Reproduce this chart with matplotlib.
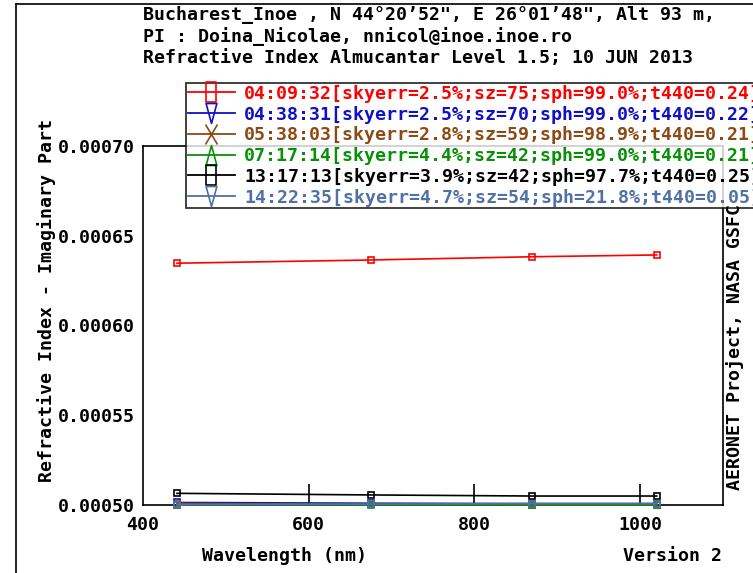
import matplotlib
matplotlib.use("Agg")
import matplotlib.pyplot as plt
from matplotlib.path import Path
from matplotlib.lines import Line2D

# ---- data -------------------------------------------------------------
wavelengths = [441, 675, 870, 1020]

series_labels = [
    "04:09:32[skyerr=2.5%;sz=75;sph=99.0%;t440=0.24]",
    "04:38:31[skyerr=2.5%;sz=70;sph=99.0%;t440=0.22]",
    "05:38:03[skyerr=2.8%;sz=59;sph=98.9%;t440=0.21]",
    "07:17:14[skyerr=4.4%;sz=42;sph=99.0%;t440=0.21]",
    "13:17:13[skyerr=3.9%;sz=42;sph=97.7%;t440=0.25]",
    "14:22:35[skyerr=4.7%;sz=54;sph=21.8%;t440=0.05]",
]

k_0409 = [0.0006347, 0.0006365, 0.0006383, 0.0006393]
k_0438 = [0.0005014, 0.0005010, 0.0005008, 0.0005008]
k_0538 = [0.0005008, 0.0005004, 0.0005002, 0.0005001]
k_0717 = [0.0005000, 0.0005000, 0.0005000, 0.0005000]
k_1317 = [0.0005065, 0.0005056, 0.0005050, 0.0005050]
k_1422 = [0.0005002, 0.0005005, 0.0005008, 0.0005008]
series_values = [k_0409, k_0438, k_0538, k_0717, k_1317, k_1422]

colors = ["#ff0000", "#1010c8", "#8c4a14", "#089008", "#000000", "#5070a8"]

x_ticks = [400, 600, 800, 1000]
y_ticks = [0.00050, 0.00055, 0.00060, 0.00065, 0.00070]

title_lines = [
    "Bucharest_Inoe , N 44\u00b020\u201952\", E 26\u00b001\u201948\", Alt 93 m,",
    "PI : Doina_Nicolae, nnicol@inoe.inoe.ro",
    "Refractive Index Almucantar Level 1.5; 10 JUN 2013",
]

# ---- tall legend symbols ---------------------------------------------
w = 0.27
tall_rect = Path([(-w, -0.5), (w, -0.5), (w, 0.5), (-w, 0.5), (-w, -0.5)],
                 [Path.MOVETO, Path.LINETO, Path.LINETO, Path.LINETO, Path.CLOSEPOLY])
tall_down = Path([(-w, 0.5), (w, 0.5), (0, -0.5), (-w, 0.5)],
                 [Path.MOVETO, Path.LINETO, Path.LINETO, Path.CLOSEPOLY])
tall_up = Path([(0, 0.5), (w, -0.5), (-w, -0.5), (0, 0.5)],
               [Path.MOVETO, Path.LINETO, Path.LINETO, Path.CLOSEPOLY])
tall_x = Path([(-0.3, 0.5), (0.3, -0.5), (-0.3, -0.5), (0.3, 0.5)],
              [Path.MOVETO, Path.LINETO, Path.MOVETO, Path.LINETO])
legend_markers = [tall_rect, tall_down, tall_x, tall_up, tall_rect, tall_down]

FONT = "DejaVu Sans Mono"
FS = 13.15

fig = plt.figure(figsize=(7.53, 5.73), dpi=100)
W, H = 753, 573
ax = fig.add_axes([143 / W, 1 - 505 / H, (723 - 143) / W, (505 - 146) / H])

for vals, col in zip(series_values, colors):
    ax.plot(wavelengths, vals, color=col, lw=1.2, marker="s", ms=4.5,
            mfc="none", mec=col, mew=1.2, clip_on=False, zorder=3)

ax.set_xlim(400, 1100)
ax.set_ylim(0.00050, 0.00070)
ax.set_xticks(x_ticks)
ax.set_yticks(y_ticks)
ax.set_xticklabels([str(v) for v in x_ticks])
ax.set_yticklabels([f"{v:.5f}" for v in y_ticks])
ax.tick_params(axis="x", direction="in", length=15, width=1.2, pad=8)
ax.tick_params(axis="y", length=0, pad=6)
ax.xaxis.get_major_ticks()[0].tick1line.set_visible(False)
for lab in ax.get_xticklabels() + ax.get_yticklabels():
    lab.set_fontfamily(FONT)
    lab.set_fontweight("bold")
    lab.set_fontsize(FS)
for sp in ax.spines.values():
    sp.set_linewidth(1.2)

ax.set_ylabel("Refractive Index - Imaginary Part", fontfamily=FONT,
              fontweight="bold", fontsize=FS)
ax.yaxis.set_label_coords((56 - 143) / 580, (505 - 300) / 359)

# legend with tall symbols
handles = [Line2D([], [], color=c, lw=1.3, marker=m, ms=14.4, mfc="none",
                  mec=c, mew=1.2)
           for c, m in zip(colors, legend_markers)]
leg = ax.legend(handles, series_labels, loc="upper left",
                bbox_to_anchor=(186 / W, 1 - 83 / H),
                bbox_transform=fig.transFigure,
                prop={"family": FONT, "weight": "bold", "size": FS},
                frameon=True, fancybox=False, borderpad=0.1,
                borderaxespad=0, labelspacing=0.15, handlelength=2.57,
                handletextpad=0.5, markerscale=1.0)
leg.get_frame().set_edgecolor("black")
leg.get_frame().set_linewidth(1.3)
leg.set_zorder(10)
for txt, c in zip(leg.get_texts(), colors):
    txt.set_color(c)

# titles and annotations
for i, line in enumerate(title_lines):
    fig.text(143 / W, 1 - (15 + 21.5 * i) / H, line, family=FONT,
             weight="bold", fontsize=FS, va="center", ha="left")
fig.text(285 / W, 1 - 556 / H, "Wavelength (nm)", family=FONT,
         weight="bold", fontsize=FS, va="center", ha="center")
fig.text(722 / W, 1 - 556 / H, "Version 2", family=FONT,
         weight="bold", fontsize=FS, va="center", ha="right")
fig.text(735 / W, 1 - 490 / H, "AERONET Project, NASA GSFC", family=FONT,
         weight="bold", fontsize=FS, va="center", ha="left",
         rotation=90, rotation_mode="anchor", zorder=1)

# outer frame lines
fig.add_artist(Line2D([16 / W, 16 / W], [0, 1 - 4 / H], color="black",
                      lw=1.2, transform=fig.transFigure))
fig.add_artist(Line2D([16 / W, 1], [1 - 4 / H, 1 - 4 / H], color="black",
                      lw=1.2, transform=fig.transFigure))

fig.savefig("out.png", dpi=100)
